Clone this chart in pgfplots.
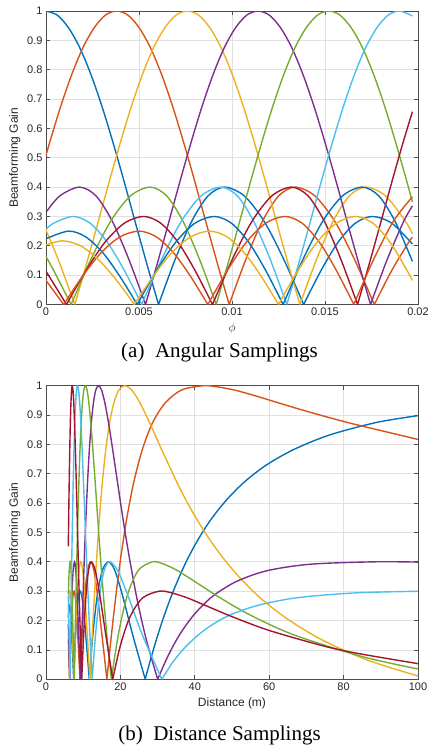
\documentclass[border=0pt]{standalone}
\usepackage{fontspec}
\setmainfont{Liberation Sans}
\newfontfamily\capfont{Liberation Serif}
\usepackage{pgfplots}
\pgfplotsset{compat=1.18}
\definecolor{c1}{rgb}{0,0.447,0.741}
\definecolor{c2}{rgb}{0.850,0.325,0.098}
\definecolor{c3}{rgb}{0.929,0.694,0.125}
\definecolor{c4}{rgb}{0.494,0.184,0.556}
\definecolor{c5}{rgb}{0.466,0.674,0.188}
\definecolor{c6}{rgb}{0.301,0.745,0.933}
\definecolor{c7}{rgb}{0.635,0.078,0.184}
\pgfplotsset{
 mat/.style={
  scale only axis, width=372pt, height=293.5pt,
  ymin=0, ymax=1,
  ytick={0,0.1,0.2,0.3,0.4,0.5,0.6,0.7,0.8,0.9,1},
  yticklabels={0,0.1,0.2,0.3,0.4,0.5,0.6,0.7,0.8,0.9,1},
  scaled x ticks=false, scaled y ticks=false,
  grid=major, major grid style={black!12, line width=0.7pt},
  tick align=inside, major tick length=4pt,
  tick style={black!70, line width=0.7pt},
  axis line style={black!70, line width=0.7pt},
  ticklabel style={font=\fontsize{11}{12}\selectfont, text=black!85},
  label style={font=\fontsize{12}{13}\selectfont, text=black!85},
  ylabel={Beamforming Gain},
  unbounded coords=jump,
  every axis plot/.append style={line width=1.4pt, smooth},
 }
}
\begin{document}
\begin{tikzpicture}
\useasboundingbox (-46pt,11pt) rectangle (382pt,-739pt);
% ---------------- (a) Angular samplings ----------------
\begin{axis}[mat, anchor=north west, at={(0pt,0pt)},
  xmin=0, xmax=0.02,
  xtick={0,0.005,0.01,0.015,0.02},
  xticklabels={0,0.005,0.01,0.015,0.02},
  xlabel={$\phi$}]
\addplot[c1] coordinates {(0,1) (0.605e-3,0.986) (1.21e-3,0.943) (1.815e-3,0.875) (2.42e-3,0.783) (3.025e-3,0.672) (3.63e-3,0.546) (4.235e-3,0.411) (4.84e-3,0.271) (5.445e-3,0.133) (6.05e-3,0) (6.05e-3,nan)
 (6.05e-3,0) (6.94e-3,0.153) (7.83e-3,0.283) (8.71e-3,0.370) (9.6e-3,0.4) (10.66e-3,0.370) (11.73e-3,0.283) (12.79e-3,0.153) (13.85e-3,0) (13.85e-3,nan)
 (13.85e-3,0) (14.78e-3,0.115) (15.70e-3,0.212) (16.63e-3,0.277) (17.55e-3,0.3) (18.59e-3,0.277) (19.7e-3,0.206)};
\addplot[c2] coordinates {(0,0.508) (0.17e-3,0.546) (0.775e-3,0.672) (1.38e-3,0.783) (1.985e-3,0.875) (2.59e-3,0.943) (3.195e-3,0.986) (3.8e-3,1) (4.405e-3,0.986) (5.01e-3,0.943) (5.615e-3,0.875) (6.22e-3,0.783) (6.825e-3,0.672) (7.43e-3,0.546) (8.035e-3,0.411) (8.64e-3,0.271) (9.245e-3,0.133) (9.85e-3,0) (9.85e-3,nan)
 (9.85e-3,0) (10.74e-3,0.153) (11.63e-3,0.283) (12.51e-3,0.370) (13.4e-3,0.4) (14.46e-3,0.370) (15.53e-3,0.283) (16.59e-3,0.153) (17.65e-3,0) (17.65e-3,nan)
 (17.65e-3,0) (18.58e-3,0.115) (19.5e-3,0.212) (19.7e-3,0.229)};
\addplot[c3] coordinates {(0,0.253) (0.66e-3,0.153) (1.55e-3,0) (1.55e-3,nan)
 (1.55e-3,0) (2.155e-3,0.133) (2.76e-3,0.271) (3.365e-3,0.411) (3.97e-3,0.546) (4.575e-3,0.672) (5.18e-3,0.783) (5.785e-3,0.875) (6.39e-3,0.943) (6.995e-3,0.986) (7.6e-3,1) (8.205e-3,0.986) (8.81e-3,0.943) (9.415e-3,0.875) (10.02e-3,0.783) (10.625e-3,0.672) (11.23e-3,0.546) (11.835e-3,0.411) (12.44e-3,0.271) (13.045e-3,0.133) (13.65e-3,0) (13.65e-3,nan)
 (13.65e-3,0) (14.54e-3,0.153) (15.43e-3,0.283) (16.31e-3,0.370) (17.2e-3,0.4) (18.26e-3,0.370) (19.33e-3,0.283) (19.7e-3,0.241)};
\addplot[c4] coordinates {(0,0.314) (0.74e-3,0.370) (1.8e-3,0.4) (2.69e-3,0.370) (3.57e-3,0.283) (4.46e-3,0.153) (5.35e-3,0) (5.35e-3,nan)
 (5.35e-3,0) (5.955e-3,0.133) (6.56e-3,0.271) (7.165e-3,0.411) (7.77e-3,0.546) (8.375e-3,0.672) (8.98e-3,0.783) (9.585e-3,0.875) (10.19e-3,0.943) (10.795e-3,0.986) (11.4e-3,1) (12.005e-3,0.986) (12.61e-3,0.943) (13.215e-3,0.875) (13.82e-3,0.783) (14.425e-3,0.672) (15.03e-3,0.546) (15.635e-3,0.411) (16.24e-3,0.271) (16.845e-3,0.133) (17.45e-3,0) (17.45e-3,nan)
 (17.45e-3,0) (18.34e-3,0.153) (19.23e-3,0.283) (19.7e-3,0.336)};
\addplot[c5] coordinates {(0,0.163) (0.42e-3,0.115) (1.35e-3,0) (1.35e-3,nan)
 (1.35e-3,0) (2.41e-3,0.153) (3.47e-3,0.283) (4.54e-3,0.370) (5.6e-3,0.4) (6.49e-3,0.370) (7.37e-3,0.283) (8.26e-3,0.153) (9.15e-3,0) (9.15e-3,nan)
 (9.15e-3,0) (9.755e-3,0.133) (10.36e-3,0.271) (10.965e-3,0.411) (11.57e-3,0.546) (12.175e-3,0.672) (12.78e-3,0.783) (13.385e-3,0.875) (13.99e-3,0.943) (14.595e-3,0.986) (15.2e-3,1) (15.805e-3,0.986) (16.41e-3,0.943) (17.015e-3,0.875) (17.62e-3,0.783) (18.225e-3,0.672) (18.83e-3,0.546) (19.435e-3,0.411) (19.7e-3,0.349)};
\addplot[c6] coordinates {(0,0.256) (0.41e-3,0.277) (1.45e-3,0.3) (2.37e-3,0.277) (3.3e-3,0.212) (4.22e-3,0.115) (5.15e-3,0) (5.15e-3,nan)
 (5.15e-3,0) (6.21e-3,0.153) (7.27e-3,0.283) (8.34e-3,0.370) (9.4e-3,0.4) (10.29e-3,0.370) (11.17e-3,0.283) (12.06e-3,0.153) (12.95e-3,0) (12.95e-3,nan)
 (12.95e-3,0) (13.555e-3,0.133) (14.16e-3,0.271) (14.765e-3,0.411) (15.37e-3,0.546) (15.975e-3,0.672) (16.58e-3,0.783) (17.185e-3,0.875) (17.79e-3,0.943) (18.395e-3,0.986) (19.0e-3,1) (19.605e-3,0.986) (19.7e-3,0.983)};
\addplot[c7] coordinates {(0,0.113) (0.17e-3,0.096) (1.1e-3,0) (1.1e-3,nan)
 (1.1e-3,0) (2.14e-3,0.115) (3.17e-3,0.212) (4.21e-3,0.277) (5.25e-3,0.3) (6.17e-3,0.277) (7.1e-3,0.212) (8.02e-3,0.115) (8.95e-3,0) (8.95e-3,nan)
 (8.95e-3,0) (10.01e-3,0.153) (11.07e-3,0.283) (12.14e-3,0.370) (13.2e-3,0.4) (14.09e-3,0.370) (14.97e-3,0.283) (15.86e-3,0.153) (16.75e-3,0) (16.75e-3,nan)
 (16.75e-3,0) (17.355e-3,0.133) (17.96e-3,0.271) (18.565e-3,0.411) (19.17e-3,0.546) (19.7e-3,0.657)};
\addplot[c1] coordinates {(0,0.224) (1.2e-3,0.25) (2.12e-3,0.231) (3.05e-3,0.177) (3.97e-3,0.096) (4.9e-3,0) (4.9e-3,nan)
 (4.9e-3,0) (5.94e-3,0.115) (6.97e-3,0.212) (8.01e-3,0.277) (9.05e-3,0.3) (9.97e-3,0.277) (10.9e-3,0.212) (11.82e-3,0.115) (12.75e-3,0) (12.75e-3,nan)
 (12.75e-3,0) (13.81e-3,0.153) (14.87e-3,0.283) (15.94e-3,0.370) (17.0e-3,0.4) (17.89e-3,0.370) (18.77e-3,0.283) (19.7e-3,0.147)};
\addplot[c2] coordinates {(0,0.082) (0.95e-3,0) (0.95e-3,nan)
 (0.95e-3,0) (1.96e-3,0.096) (2.97e-3,0.177) (3.99e-3,0.231) (5.0e-3,0.25) (5.92e-3,0.231) (6.85e-3,0.177) (7.77e-3,0.096) (8.7e-3,0) (8.7e-3,nan)
 (8.7e-3,0) (9.74e-3,0.115) (10.77e-3,0.212) (11.81e-3,0.277) (12.85e-3,0.3) (13.77e-3,0.277) (14.7e-3,0.212) (15.62e-3,0.115) (16.55e-3,0) (16.55e-3,nan)
 (16.55e-3,0) (17.61e-3,0.153) (18.67e-3,0.283) (19.7e-3,0.367)};
\addplot[c3] coordinates {(0,0.203) (0.9e-3,0.217) (1.86e-3,0.200) (2.82e-3,0.153) (3.79e-3,0.083) (4.75e-3,0) (4.75e-3,nan)
 (4.75e-3,0) (5.76e-3,0.096) (6.77e-3,0.177) (7.79e-3,0.231) (8.8e-3,0.25) (9.72e-3,0.231) (10.65e-3,0.177) (11.57e-3,0.096) (12.5e-3,0) (12.5e-3,nan)
 (12.5e-3,0) (13.54e-3,0.115) (14.57e-3,0.212) (15.61e-3,0.277) (16.65e-3,0.3) (17.57e-3,0.277) (18.5e-3,0.212) (19.42e-3,0.115) (19.7e-3,0.082)};
\end{axis}
\node[font=\capfont\fontsize{21}{24}\selectfont] at (173.5pt,-341pt) {(a)\hspace{0.25em} Angular Samplings};
% ---------------- (b) Distance samplings ----------------
\begin{axis}[mat, anchor=north west, at={(0pt,-374.7pt)},
  xmin=0, xmax=100,
  xtick={0,20,40,60,80,100},
  xticklabels={0,20,40,60,80,100},
  xlabel={Distance (m)}]
\addplot[c1] coordinates {(6.0,0.21) (6.11,0.231) (6.35,0.25) (6.59,0.231) (6.85,0.177) (7.13,0.096) (7.43,0) (7.43,nan)
 (7.43,0) (7.81,0.115) (8.22,0.212) (8.67,0.277) (9.19,0.3) (9.70,0.277) (10.28,0.212) (10.92,0.115) (11.64,0) (11.64,nan)
 (11.64,0) (12.61,0.153) (13.76,0.283) (15.13,0.370) (16.81,0.4) (18.52,0.370) (20.62,0.283) (23.26,0.153) (26.67,0) (26.67,nan)
 (26.67,0) (28.07,0.065) (29.63,0.133) (31.37,0.202) (33.33,0.271) (35.56,0.341) (38.10,0.411) (41.03,0.479) (44.44,0.546) (48.48,0.610) (53.33,0.672) (59.26,0.730) (66.67,0.783) (76.19,0.832) (88.89,0.875) (100,0.898)};
\addplot[c2] coordinates {(6.0,0.138) (6.10,0.096) (6.33,0) (6.33,nan)
 (6.33,0) (6.59,0.115) (6.88,0.212) (7.20,0.277) (7.55,0.3) (7.89,0.277) (8.27,0.212) (8.68,0.115) (9.13,0) (9.13,nan)
 (9.13,0) (9.72,0.153) (10.38,0.283) (11.15,0.370) (12.03,0.4) (12.89,0.370) (13.87,0.283) (15.02,0.153) (16.37,0) (16.37,nan)
 (16.37,0) (17.44,0.133) (18.66,0.271) (20.06,0.411) (21.69,0.546) (23.61,0.672) (25.91,0.783) (28.69,0.875) (32.15,0.943) (36.56,0.986) (42.37,1) (46.03,0.996) (50.38,0.986) (55.63,0.968) (62.11,0.943) (70.30,0.912) (80.97,0.875) (90.09,0.847) (100,0.817)};
\addplot[c3] coordinates {(6.0,0.24) (6.15,0.277) (6.41,0.3) (6.65,0.277) (6.92,0.212) (7.20,0.115) (7.51,0) (7.51,nan)
 (7.51,0) (7.91,0.153) (8.34,0.283) (8.83,0.370) (9.37,0.4) (9.88,0.370) (10.45,0.283) (11.09,0.153) (11.81,0) (11.81,nan)
 (11.81,0) (12.35,0.133) (12.95,0.271) (13.61,0.411) (14.35,0.546) (15.16,0.672) (16.08,0.783) (17.11,0.875) (18.28,0.943) (19.63,0.986) (21.19,1) (23.01,0.986) (25.19,0.943) (27.82,0.875) (31.06,0.783) (35.15,0.672) (37.64,0.610) (40.49,0.546) (43.82,0.479) (47.73,0.411) (52.44,0.341) (58.14,0.271) (65.27,0.202) (74.35,0.133) (86.43,0.065) (100,0.011)};
\addplot[c4] coordinates {(6.0,0.188) (6.16,0.115) (6.38,0) (6.38,nan)
 (6.38,0) (6.66,0.153) (6.97,0.283) (7.30,0.370) (7.67,0.4) (8.01,0.370) (8.38,0.283) (8.79,0.153) (9.23,0) (9.23,nan)
 (9.23,0) (9.56,0.133) (9.92,0.271) (10.30,0.411) (10.72,0.546) (11.17,0.672) (11.66,0.783) (12.19,0.875) (12.77,0.943) (13.41,0.986) (14.12,1) (14.91,0.986) (15.80,0.943) (16.79,0.875) (17.92,0.783) (19.21,0.672) (20.70,0.546) (22.45,0.411) (24.51,0.271) (26.99,0.133) (30.03,0) (30.03,nan)
 (30.03,0) (32.75,0.078) (35.97,0.153) (39.94,0.222) (44.84,0.283) (51.20,0.333) (59.52,0.370) (71.28,0.392) (88.5,0.4) (100,0.399)};
\addplot[c5] coordinates {(6.0,0.29) (6.23,0.370) (6.50,0.4) (6.74,0.370) (7.00,0.283) (7.28,0.153) (7.58,0) (7.58,nan)
 (7.58,0) (7.80,0.133) (8.04,0.271) (8.29,0.411) (8.55,0.546) (8.84,0.672) (9.14,0.783) (9.47,0.875) (9.81,0.943) (10.19,0.986) (10.59,1) (11.03,0.986) (11.51,0.943) (12.03,0.875) (12.59,0.783) (13.22,0.672) (13.91,0.546) (14.67,0.411) (15.53,0.271) (16.49,0.133) (17.57,0) (17.57,nan)
 (17.57,0) (19.46,0.153) (21.79,0.283) (24.75,0.370) (28.65,0.4) (31.65,0.392) (35.34,0.370) (39.97,0.333) (46.08,0.283) (54.38,0.222) (66.23,0.153) (84.7,0.078) (100,0.035)};
\addplot[c6] coordinates {(6.0,0.286) (6.21,0.153) (6.43,0) (6.43,nan)
 (6.43,0) (6.59,0.133) (6.76,0.271) (6.93,0.411) (7.12,0.546) (7.31,0.672) (7.52,0.783) (7.74,0.875) (7.97,0.943) (8.21,0.986) (8.47,1) (8.75,0.986) (9.05,0.943) (9.37,0.875) (9.71,0.783) (10.08,0.672) (10.47,0.546) (10.90,0.411) (11.36,0.271) (11.87,0.133) (12.42,0) (12.42,nan)
 (12.42,0) (13.33,0.153) (14.39,0.283) (15.63,0.370) (17.09,0.4) (19.27,0.370) (22.08,0.283) (25.84,0.153) (31.15,0) (31.15,nan)
 (31.15,0) (34.15,0.059) (37.88,0.115) (42.54,0.167) (48.31,0.212) (56.18,0.249) (67.11,0.277) (83.06,0.294) (100,0.2996)};
\addplot[c7] coordinates {(6.0,0.453) (6.09,0.546) (6.24,0.672) (6.39,0.783) (6.54,0.875) (6.71,0.943) (6.88,0.986) (7.06,1) (7.25,0.986) (7.46,0.943) (7.67,0.875) (7.90,0.783) (8.14,0.672) (8.40,0.546) (8.67,0.411) (8.96,0.271) (9.27,0.133) (9.61,0) (9.61,nan)
 (9.61,0) (10.14,0.153) (10.74,0.283) (11.42,0.370) (12.18,0.4) (13.25,0.370) (14.51,0.283) (16.05,0.153) (17.95,0) (17.95,nan)
 (17.95,0) (20.0,0.115) (22.57,0.212) (25.97,0.277) (30.49,0.3) (33.82,0.294) (38.02,0.277) (43.25,0.249) (50.25,0.212) (59.77,0.167) (74.07,0.115) (83.33,0.089) (100,0.053)};
\end{axis}
\node[font=\capfont\fontsize{21}{24}\selectfont] at (173.5pt,-724pt) {(b)\hspace{0.25em} Distance Samplings};
\end{tikzpicture}
\end{document}
